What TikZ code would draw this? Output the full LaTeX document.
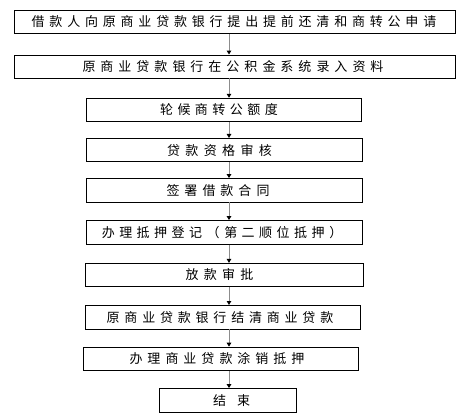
\documentclass[tikz,border=0pt]{standalone}
\usepackage{fontspec}
\newfontfamily\cjk{Noto Sans CJK SC}
\usetikzlibrary{arrows.meta}
\def\spcend{\spcend}
% \spc{advance per character}{horizontal shift}{text}
\newcommand\spc[3]{\def\spcgap{#1}\kern#2\relax\spcloop#3\spcend\kern-#2\relax}
\def\spcloop#1{\ifx#1\spcend\else\makebox[\spcgap]{#1}\expandafter\spcloop\fi}
\tikzset{
  stepbox/.style={draw=black, line width=0.9pt, fill=white, inner sep=0pt,
    minimum height=23.5pt, anchor=center, font=\cjk\fontsize{13pt}{15pt}\selectfont},
  arr/.style={draw=black!45, line width=1pt, -{Triangle[length=4pt,width=4.5pt,black]}}
}
\begin{document}
\begin{tikzpicture}[x=1pt,y=-1pt]
\useasboundingbox (0,0) rectangle (462,419);
\coordinate (ax) at (229,0);
\node[stepbox,minimum width=441pt,minimum height=23.3pt] (b1) at (234.5,21.7) {\spc{17.8pt}{-0.5pt}{借款人向原商业贷款银行提出提前还清和商转公申请}};
\node[stepbox,minimum width=441pt,minimum height=23pt] (b2) at (234.5,66.5) {\spc{18pt}{-1.5pt}{原商业贷款银行在公积金系统录入资料}};
\node[stepbox,minimum width=275pt] (b3) at (223.5,110) {\spc{17.5pt}{-4.5pt}{轮候商转公额度}};
\node[stepbox,minimum width=276pt] (b4) at (224,150.2) {\spc{18.4pt}{-4.5pt}{贷款资格审核}};
\node[stepbox,minimum width=276pt] (b5) at (224,190.3) {\spc{18pt}{-6pt}{签署借款合同}};
\node[stepbox,minimum width=276pt] (b6) at (224,232.3) {\spc{17.5pt}{-2pt}{办理抵押登记（第二顺位抵押）}};
\node[stepbox,minimum width=278pt,minimum height=22.7pt] (b7) at (224,274.7) {\spc{18.3pt}{-4.5pt}{放款审批}};
\node[stepbox,minimum width=275pt] (b8) at (222.5,317.2) {\spc{17.8pt}{-2.5pt}{原商业贷款银行结清商业贷款}};
\node[stepbox,minimum width=275pt] (b9) at (220.5,358.9) {\spc{18pt}{-3.5pt}{办理商业贷款涂销抵押}};
\node[stepbox,minimum width=137pt] (b10) at (227.5,400.3) {\spc{24pt}{4pt}{结束}};
\foreach \a/\b in {b1/b2,b2/b3,b3/b4,b4/b5,b5/b6,b6/b7,b7/b8,b8/b9,b9/b10}
  \draw[arr] (\a.south -| ax) -- (\b.north -| ax);
\end{tikzpicture}
\end{document}
